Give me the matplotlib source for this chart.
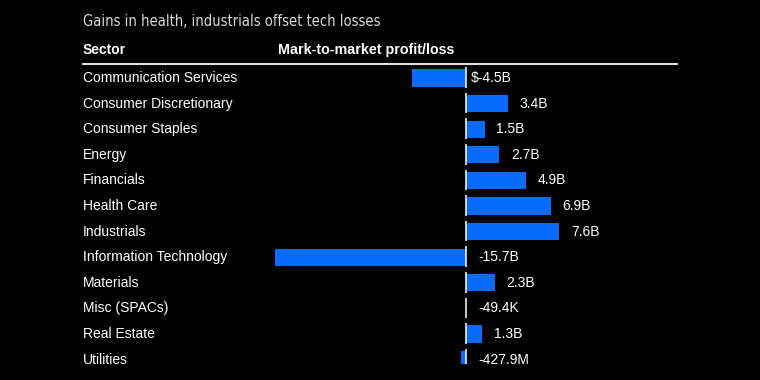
import matplotlib
matplotlib.use("Agg")
import matplotlib.pyplot as plt

sectors = ["Communication Services", "Consumer Discretionary", "Consumer Staples", "Energy",
           "Financials", "Health Care", "Industrials", "Information Technology", "Materials",
           "Misc (SPACs)", "Real Estate", "Utilities"]
values = [-4.5, 3.4, 1.5, 2.7, 4.9, 6.9, 7.6, -15.7, 2.3, -0.0000494, 1.3, -0.4279]
labels = ["$-4.5B", "3.4B", "1.5B", "2.7B", "4.9B", "6.9B", "7.6B", "-15.7B", "2.3B",
          "-49.4K", "1.3B", "-427.9M"]

W, H = 760, 380
fig = plt.figure(figsize=(7.6, 3.8), dpi=100)
fig.patch.set_facecolor("black")

ax_l, ax_r, ax_t, ax_b = 83, 677, 64, 364
ax = fig.add_axes([ax_l / W, 1 - ax_b / H, (ax_r - ax_l) / W, (ax_b - ax_t) / H])
ax.set_facecolor("black")
ppb = 12.2
zero_px = 466.5
ax.set_xlim(-(zero_px - ax_l) / ppb, (ax_r - zero_px) / ppb)
pitch = 25.6
row0 = 78.0
ax.set_ylim((ax_b - row0) / pitch, (ax_t - row0) / pitch)
for s in ax.spines.values():
    s.set_visible(False)
ax.set_xticks([])
ax.set_yticks([])

blue = "#0a6cff"
ys = list(range(len(sectors)))
ax.barh(ys, values, height=0.67, color=blue, zorder=2)
ax.vlines([0] * len(ys), [y - 0.42 for y in ys], [y + 0.38 for y in ys],
          color="white", lw=1.1, zorder=3)

for y, name, v, lab in zip(ys, sectors, values, labels):
    ax.text(0.0, y, name, transform=ax.get_yaxis_transform(), ha="left", va="center",
            color="white", fontsize=10, family="Liberation Sans", clip_on=False)
    if lab.startswith("$"):
        x = 0.35
    elif v >= 0:
        x = v + 0.95
    else:
        x = 0.95
    ax.text(x, y, lab, ha="left", va="center", color="white", fontsize=10,
            family="Liberation Sans", clip_on=True)

fig.text(83 / W, 1 - 21 / H, "Gains in health, industrials offset tech losses",
         color="#d8d8d8", fontsize=10.5, family="DejaVu Sans", fontstretch="condensed",
         ha="left", va="center")
fig.text(83 / W, 1 - 50 / H, "Sector", color="white", fontsize=10, fontweight="bold",
         family="Liberation Sans", ha="left", va="center")
fig.text(278 / W, 1 - 50 / H, "Mark-to-market profit/loss", color="white", fontsize=10.3,
         fontweight="bold", family="Liberation Sans", ha="left", va="center")
fig.add_artist(plt.Line2D([83 / W, 677 / W], [1 - 64 / H, 1 - 64 / H], color="#e0e0e0", lw=1.5))

fig.savefig("out.png", dpi=100, facecolor="black")
